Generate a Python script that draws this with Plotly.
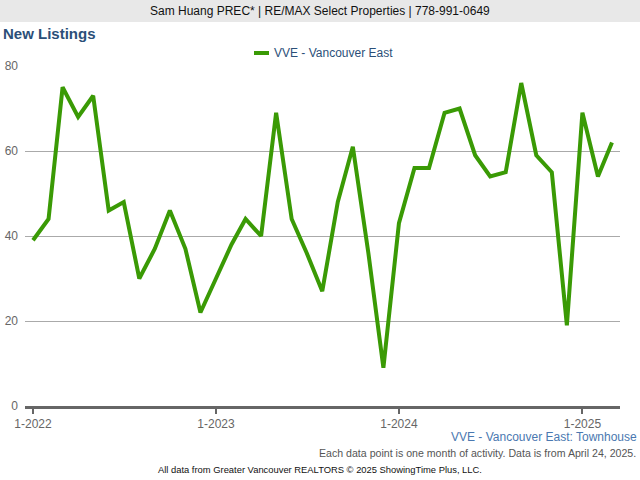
import plotly.graph_objects as go
import pandas as pd

months = pd.date_range("2022-01-01", "2025-03-01", freq="MS")
new_listings = [39, 44, 75, 68, 73, 46, 48, 30, 37, 46, 37, 22,
                30, 38, 44, 40, 69, 44, 36, 27, 48, 61, 36, 9,
                43, 56, 56, 69, 70, 59, 54, 55, 76, 59, 55, 19,
                69, 54, 62]
series_name = "VVE - Vancouver East"
tick_dates = ["2022-01-01", "2023-01-01", "2024-01-01", "2025-01-01"]
tick_labels = ["1-2022", "1-2023", "1-2024", "1-2025"]
y_ticks = [0, 20, 40, 60, 80]

W, H = 640, 480
L, R, T, B = 25, 20, 66, 74
PW, PH = W - L - R, H - T - B

def px(x):
    return (x - L) / PW

def py(y):
    return (H - B - y) / PH

GREEN = "#3a9a05"
FONT = "Liberation Sans, Arial, sans-serif"

fig = go.Figure()
fig.add_trace(go.Scatter(
    x=months, y=new_listings, mode="lines", name=series_name,
    line=dict(color=GREEN, width=4), showlegend=False,
))

fig.update_layout(
    width=W, height=H,
    margin=dict(l=L, r=R, t=T, b=B, pad=0, autoexpand=False),
    paper_bgcolor="white", plot_bgcolor="white",
    font=dict(family=FONT, size=12, color="#666666"),
    xaxis=dict(
        range=["2021-12-16", "2025-03-17"],
        tickvals=tick_dates, ticktext=tick_labels,
        showgrid=False, zeroline=False, automargin=False,
        showline=True, linecolor="#666666", linewidth=3,
        ticks="outside", ticklen=5, tickcolor="#666666", tickwidth=2,
        ticklabelstandoff=0,
        tickfont=dict(size=12, color="#666666", family=FONT),
    ),
    yaxis=dict(
        range=[0, 80], tickvals=y_ticks, automargin=False,
        showgrid=True, gridcolor="#aaaaaa", gridwidth=1,
        zeroline=False, showline=False, ticks="",
        tickfont=dict(size=12, color="#666666", family=FONT),
        ticklabelstandoff=6,
    ),
)

# top banner
fig.add_shape(type="rect", xref="paper", yref="paper",
              x0=px(0), x1=px(W), y0=py(22), y1=py(0),
              fillcolor="#e8e8e8", line=dict(width=0), layer="below")
fig.add_annotation(xref="paper", yref="paper", x=px(320), y=py(11),
                   text="Sam Huang PREC* | RE/MAX Select Properties | 778-991-0649",
                   showarrow=False, xanchor="center", yanchor="middle",
                   font=dict(family=FONT, size=12, color="#111111"))
# title
fig.add_annotation(xref="paper", yref="paper", x=px(1), y=py(34),
                   text="<b>New Listings</b>", showarrow=False,
                   xanchor="left", yanchor="middle",
                   font=dict(family=FONT, size=15, color="#2b4f78"))
# legend (manual)
fig.add_shape(type="line", xref="paper", yref="paper",
              x0=px(254), x1=px(269), y0=py(53), y1=py(53),
              line=dict(color=GREEN, width=4))
fig.add_annotation(xref="paper", yref="paper", x=px(272), y=py(53),
                   text=series_name, showarrow=False,
                   xanchor="left", yanchor="middle",
                   font=dict(family=FONT, size=12, color="#2b4f78"))
# footer texts
fig.add_annotation(xref="paper", yref="paper", x=px(639), y=py(437),
                   text="VVE - Vancouver East: Townhouse", showarrow=False,
                   xanchor="right", yanchor="middle",
                   font=dict(family=FONT, size=12, color="#4a78b0"))
fig.add_annotation(xref="paper", yref="paper", x=px(638), y=py(453),
                   text="Each data point is one month of activity. Data is from April 24, 2025.",
                   showarrow=False, xanchor="right", yanchor="middle",
                   font=dict(family=FONT, size=10.6, color="#555555"))
fig.add_annotation(xref="paper", yref="paper", x=px(320), y=py(469),
                   text="All data from Greater Vancouver REALTORS © 2025 ShowingTime Plus, LLC.",
                   showarrow=False, xanchor="center", yanchor="middle",
                   font=dict(family=FONT, size=9.4, color="#111111"))

fig.write_html("out.html")
